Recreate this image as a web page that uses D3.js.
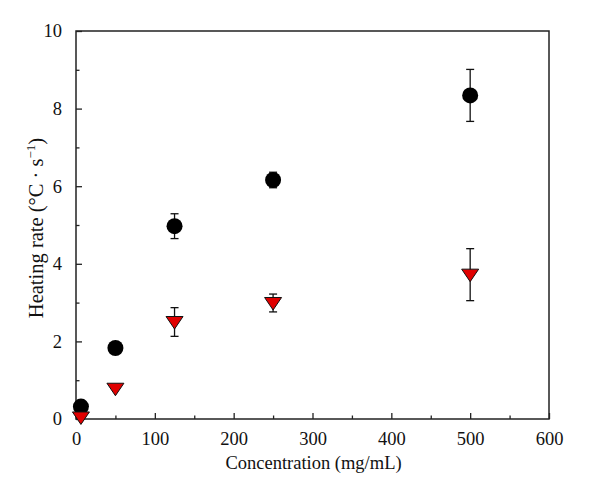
<!DOCTYPE html>
<html>
<head>
<meta charset="utf-8">
<script src="https://cdn.jsdelivr.net/npm/d3@7"></script>
<style>
  html, body { margin: 0; padding: 0; background: #fff; }
  svg { display: block; }
  text { font-family: "Liberation Serif", "Times New Roman", serif; fill: #111; }
</style>
</head>
<body>
<svg id="chart" width="600" height="496"></svg>
<script>
// ---- data ----
const concentrations = [6.25, 50, 125, 250, 500];
const circleValues   = [0.32, 1.83, 4.97, 6.16, 8.34];
const circleErrors   = [0, 0, 0.32, 0.2, 0.67];
const triangleValues = [0.04, 0.78, 2.5, 2.99, 3.72];
const triangleErrors = [0, 0, 0.37, 0.23, 0.67];
const xTicks = [0, 100, 200, 300, 400, 500, 600];
const yTicks = [0, 2, 4, 6, 8, 10];
const xMinorTicks = [50, 150, 250, 350, 450, 550];
const yMinorTicks = [1, 3, 5, 7, 9];

const svg = d3.select("#chart");
const L = 76, R = 549, T = 31, B = 419;

const x = d3.scaleLinear().domain([0, 600]).range([L, R]);
const y = d3.scaleLinear().domain([0, 10]).range([B, T]);

const axisColor = "#222";

// frame
svg.append("rect")
  .attr("x", L).attr("y", T).attr("width", R - L).attr("height", B - T)
  .attr("fill", "none").attr("stroke", axisColor).attr("stroke-width", 1.5);

// x axis (ticks inward)
const xAxis = svg.append("g").attr("transform", `translate(0,${B})`)
  .call(d3.axisBottom(x).tickValues(xTicks).tickSizeInner(-6).tickSizeOuter(0).tickPadding(13).tickFormat(d3.format("d")));
xAxis.select(".domain").remove();
xAxis.selectAll(".tick line").attr("stroke", axisColor).attr("stroke-width", 1.3);
xAxis.selectAll(".tick text").attr("font-size", 18.5).attr("font-family", "Liberation Serif").attr("fill", "#111");

const xMinor = svg.append("g").attr("transform", `translate(0,${B})`)
  .call(d3.axisBottom(x).tickValues(xMinorTicks).tickSizeInner(-3.5).tickSizeOuter(0).tickFormat(""));
xMinor.select(".domain").remove();
xMinor.selectAll(".tick line").attr("stroke", axisColor).attr("stroke-width", 1.3);

// y axis (ticks inward)
const yAxis = svg.append("g").attr("transform", `translate(${L},0)`)
  .call(d3.axisLeft(y).tickValues(yTicks).tickSizeInner(-6).tickSizeOuter(0).tickPadding(14).tickFormat(d3.format("d")));
yAxis.select(".domain").remove();
yAxis.selectAll(".tick line").attr("stroke", axisColor).attr("stroke-width", 1.3);
yAxis.selectAll(".tick text").attr("font-size", 18.5).attr("font-family", "Liberation Serif").attr("fill", "#111");

const yMinor = svg.append("g").attr("transform", `translate(${L},0)`)
  .call(d3.axisLeft(y).tickValues(yMinorTicks).tickSizeInner(-3.5).tickSizeOuter(0).tickFormat(""));
yMinor.select(".domain").remove();
yMinor.selectAll(".tick line").attr("stroke", axisColor).attr("stroke-width", 1.3);

// axis titles
svg.append("text")
  .attr("x", (L + R) / 2 + 1).attr("y", 469)
  .attr("text-anchor", "middle").attr("font-size", 18.5)
  .text("Concentration (mg/mL)");

const yt = svg.append("text")
  .attr("transform", `translate(43,${(T + B) / 2 + 3}) rotate(-90)`)
  .attr("text-anchor", "middle").attr("font-size", 20.5);
yt.append("tspan").text("Heating rate (°C · s");
yt.append("tspan").attr("dy", -8).attr("font-size", 13).text("−1");
yt.append("tspan").attr("dy", 8).text(")");

// error bars
function errorBars(values, errors) {
  const d = concentrations.map((c, i) => ({ c, v: values[i], e: errors[i] })).filter(p => p.e > 0);
  const g = svg.append("g").attr("stroke", "#111").attr("stroke-width", 1.3);
  g.selectAll(".v").data(d).join("line")
    .attr("x1", p => x(p.c)).attr("x2", p => x(p.c))
    .attr("y1", p => y(p.v - p.e)).attr("y2", p => y(p.v + p.e));
  g.selectAll(".t").data(d).join("line")
    .attr("x1", p => x(p.c) - 4).attr("x2", p => x(p.c) + 4)
    .attr("y1", p => y(p.v + p.e)).attr("y2", p => y(p.v + p.e));
  g.selectAll(".b").data(d).join("line")
    .attr("x1", p => x(p.c) - 4).attr("x2", p => x(p.c) + 4)
    .attr("y1", p => y(p.v - p.e)).attr("y2", p => y(p.v - p.e));
}
errorBars(circleValues, circleErrors);
errorBars(triangleValues, triangleErrors);

// circles
svg.append("g").selectAll("circle")
  .data(concentrations.map((c, i) => ({ c, v: circleValues[i] })))
  .join("circle")
  .attr("cx", p => x(p.c)).attr("cy", p => y(p.v)).attr("r", 8)
  .attr("fill", "#000");

// down triangles
svg.append("g").selectAll("path")
  .data(concentrations.map((c, i) => ({ c, v: triangleValues[i] })))
  .join("path")
  .attr("d", p => {
    const cx = x(p.c), cy = y(p.v);
    return `M${cx - 8.5},${cy - 5.5} L${cx + 8.5},${cy - 5.5} L${cx},${cy + 7} Z`;
  })
  .attr("fill", "#e00000").attr("stroke", "#111").attr("stroke-width", 1)
  .attr("stroke-linejoin", "miter");
</script>
</body>
</html>
